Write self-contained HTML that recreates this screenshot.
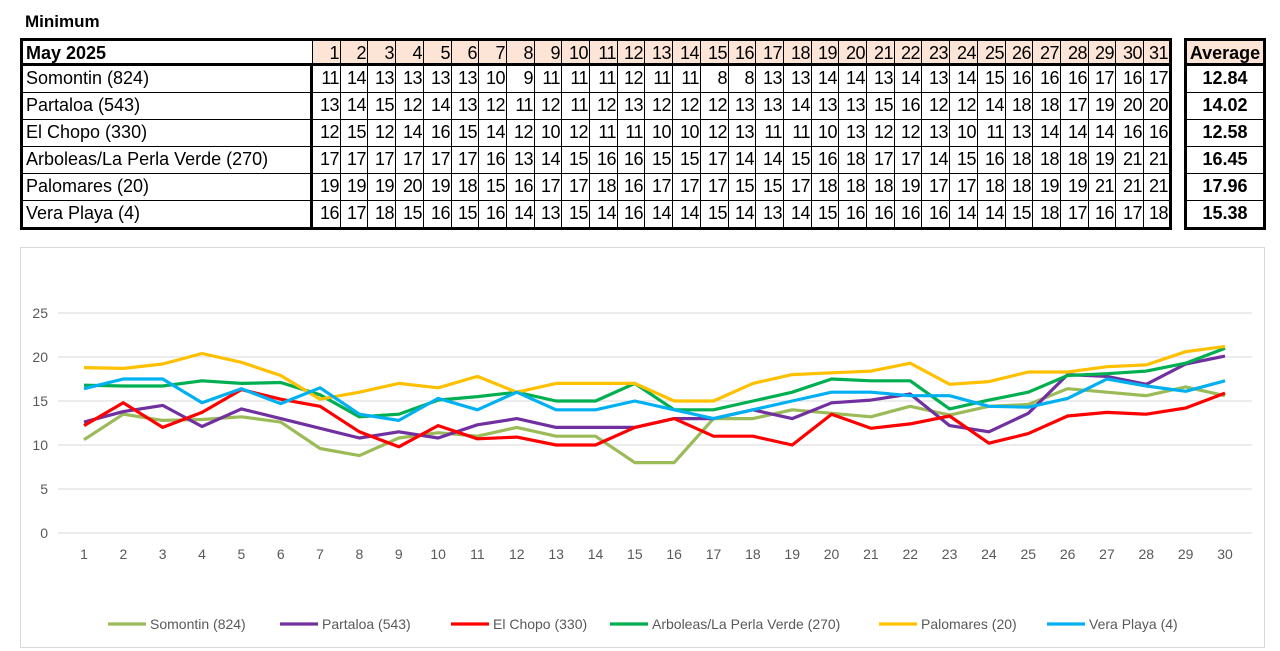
<!DOCTYPE html>
<html><head><meta charset="utf-8">
<style>
body{margin:0;width:1280px;height:651px;background:#fff;font-family:"Liberation Sans",sans-serif;position:relative;overflow:hidden}
.c{position:absolute;box-sizing:border-box;border:1px solid #000;font-size:18px;line-height:25px;color:#000;white-space:nowrap;overflow:hidden}
.num{text-align:right;padding-right:1px;letter-spacing:-0.5px}
.hd{background:#fce4d6}
</style></head><body>
<div style="position:absolute;left:25px;top:12px;font-size:17px;font-weight:bold">Minimum</div>
<div id="tbl"></div>
<div style="position:absolute;left:20px;top:247px;width:1245px;height:401px;border:1px solid #d9d9d9;box-sizing:border-box"></div>
<svg id="chart" width="1280" height="651" style="position:absolute;left:0;top:0"></svg>
<script>
const stations=["Somontin (824)","Partaloa (543)","El Chopo (330)","Arboleas/La Perla Verde (270)","Palomares (20)","Vera Playa (4)"];
const tableSomontin=[11,14,13,13,13,13,10,9,11,11,11,12,11,11,8,8,13,13,14,14,13,14,13,14,15,16,16,16,17,16,17];
const tablePartaloa=[13,14,15,12,14,13,12,11,12,11,12,13,12,12,12,13,13,14,13,13,15,16,12,12,14,18,18,17,19,20,20];
const tableChopo=[12,15,12,14,16,15,14,12,10,12,11,11,10,10,12,13,11,11,10,13,12,12,13,10,11,13,14,14,14,16,16];
const tableArboleas=[17,17,17,17,17,17,16,13,14,15,16,16,15,15,17,14,14,15,16,18,17,17,14,15,16,18,18,18,19,21,21];
const tablePalomares=[19,19,19,20,19,18,15,16,17,17,18,16,17,17,17,15,15,17,18,18,18,19,17,17,18,18,19,19,21,21,21];
const tableVera=[16,17,18,15,16,15,16,14,13,15,14,16,14,14,15,14,13,14,15,16,16,16,16,14,14,15,18,17,16,17,18];
const averages=["12.84","14.02","12.58","16.45","17.96","15.38"];

const categories=[1,2,3,4,5,6,7,8,9,10,11,12,13,14,15,16,17,18,19,20,21,22,23,24,25,26,27,28,29,30];
const somontin=[10.6,13.5,12.8,12.9,13.2,12.6,9.6,8.8,10.8,11.4,11,12,11,11,8,8,13,13,14,13.6,13.2,14.4,13.4,14.4,14.6,16.4,16,15.6,16.6,15.6];
const partaloa=[12.6,13.8,14.5,12.1,14.1,13,11.9,10.8,11.5,10.8,12.3,13,12,12,12,13,13,14,13,14.8,15.1,15.8,12.2,11.5,13.6,18,17.8,16.9,19.2,20.1];
const elChopo=[12.2,14.8,12,13.7,16.3,15.2,14.4,11.5,9.8,12.2,10.7,10.9,10,10,12,13,11,11,10,13.5,11.9,12.4,13.3,10.2,11.3,13.3,13.7,13.5,14.2,15.9];
const arboleas=[16.8,16.7,16.7,17.3,17,17.1,15.7,13.2,13.5,15.1,15.5,16,15,15,17,14,14,15,16,17.5,17.3,17.3,14.1,15.1,16,17.9,18.1,18.4,19.3,21];
const palomares=[18.8,18.7,19.2,20.4,19.4,17.9,15.2,16,17,16.5,17.8,16,17,17,17,15,15,17,18,18.2,18.4,19.3,16.9,17.2,18.3,18.3,18.9,19.1,20.6,21.2];
const veraPlaya=[16.4,17.5,17.5,14.8,16.4,14.7,16.5,13.5,12.8,15.3,14,16,14,14,15,14,13,14,15,16,16,15.6,15.6,14.4,14.3,15.3,17.5,16.7,16.1,17.3];
const yTicks=[0,5,10,15,20,25];
const colors=["#9bbb59","#7030a0","#ff0000","#00b050","#ffc000","#00b0f0"];

// ---- table ----
const tbl=document.getElementById('tbl');
const tableRows=[tableSomontin,tablePartaloa,tableChopo,tableArboleas,tablePalomares,tableVera];
const top0=38,hh=28,rh=27,colX=312,cw=27.7;
function cell(x,y,w,h,txt,cls,name){
  const d=document.createElement('div');
  d.className='c '+cls;
  d.style.left=x+'px';d.style.top=y+'px';d.style.width=w+'px';d.style.height=h+'px';
  d.textContent=txt;
  
  
  tbl.appendChild(d);return d;
}
const cx=i=>Math.round(colX+i*cw);
const cwid=i=>Math.round(colX+(i+1)*cw)-Math.round(colX+i*cw)+1;
let h=cell(20,top0,293,hh,'May 2025','','header-month');
h.style.fontWeight='bold';h.style.paddingLeft='3px';h.style.borderWidth='3px 1px 3px 3px';
for(let i=0;i<31;i++){const d=cell(cx(i),top0,cwid(i),hh,String(i+1),'num hd','day-header');d.style.borderTopWidth='3px';d.style.borderBottomWidth='3px';if(i==30)d.style.borderRightWidth='3px';}
let a=cell(1184,top0,82,hh,'Average','hd','average-header');a.style.fontWeight='bold';a.style.textAlign='center';a.style.borderWidth='3px 3px 3px 3px';
tableRows.forEach((row,r)=>{
  const y=top0+hh-1+r*rh;
  const l=cell(20,y,293,rh+1,stations[r],'','station-name');l.style.paddingLeft='3px';l.style.borderLeftWidth='3px';l.style.borderRightWidth='3px';if(r==5){l.style.borderBottomWidth='3px';l.style.height=(rh+3)+'px';}
  row.forEach((v,i)=>{const d=cell(cx(i),y,cwid(i),rh+1,String(v),'num','day-value');if(i==30)d.style.borderRightWidth='3px';if(r==5){d.style.borderBottomWidth='3px';d.style.height=(rh+3)+'px';}});
  const av=cell(1184,y,82,rh+1,averages[r],'','average-value');av.style.fontWeight='bold';av.style.textAlign='center';av.style.borderLeftWidth='3px';av.style.borderRightWidth='3px';if(r==5){av.style.borderBottomWidth='3px';av.style.height=(rh+3)+'px';}
});

// ---- chart ----
const svg=document.getElementById('chart');const NS='http://www.w3.org/2000/svg';
const x0=84,x1=1225,yb=533,yt=313,ymax=25;
const xs=i=>x0+(x1-x0)*i/(categories.length-1);
const ys=v=>yb-(yb-yt)*v/ymax;
function el(t,attrs,name){const e=document.createElementNS(NS,t);for(const k in attrs)e.setAttribute(k,attrs[k]);
  
  
  svg.appendChild(e);return e;}
yTicks.forEach(t=>{
  el('line',{x1:58,x2:1252,y1:ys(t),y2:ys(t),stroke:'#d9d9d9','stroke-width':1},'gridline');
  const tx=el('text',{x:48,y:ys(t)+5,'text-anchor':'end','font-size':14,fill:'#595959','font-family':'Liberation Sans, sans-serif'},'y-tick-label');tx.textContent=t;
});
categories.forEach((c,i)=>{
  const tx=el('text',{x:xs(i),y:559,'text-anchor':'middle','font-size':14,fill:'#595959','font-family':'Liberation Sans, sans-serif'},'x-tick-label');tx.textContent=c;
});
const series=[somontin,partaloa,elChopo,arboleas,palomares,veraPlaya];
series.forEach((s,k)=>{
  const pts=s.map((v,i)=>xs(i).toFixed(1)+','+ys(v).toFixed(1)).join(' ');
  el('polyline',{points:pts,fill:'none',stroke:colors[k],'stroke-width':3.2,'stroke-linejoin':'round'},'series-line-'+k);
});
const legX=[108,280,451,610,879,1047];
stations.forEach((n,k)=>{
  el('line',{x1:legX[k],x2:legX[k]+38,y1:624,y2:624,stroke:colors[k],'stroke-width':3.2},'legend-swatch');
  const tx=el('text',{x:legX[k]+42,y:629,'font-size':14,fill:'#595959','font-family':'Liberation Sans, sans-serif'},'legend-entry');tx.textContent=n;
});
</script>
</body></html>
